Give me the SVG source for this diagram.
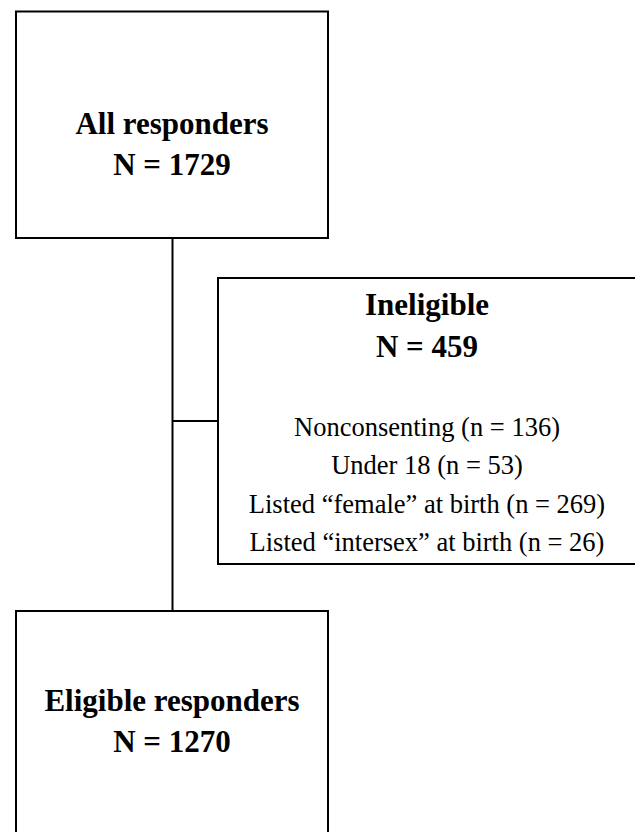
<svg xmlns="http://www.w3.org/2000/svg" width="635" height="832" viewBox="0 0 635 832">
<style>
.box{fill:#fff;stroke:#000;stroke-width:2}
.ln{fill:none;stroke:#000;stroke-width:2}
.b{font-family:"Liberation Serif","Times New Roman",serif;font-weight:bold;font-size:31px;fill:#000;text-anchor:middle}
.r{font-family:"Liberation Serif","Times New Roman",serif;font-size:26.5px;fill:#000;text-anchor:middle}
</style>
<rect width="635" height="832" fill="#fff"/>
<g id="connectors">
<line class="ln" x1="172.5" y1="238" x2="172.5" y2="611"/>
<line class="ln" x1="172.5" y1="421" x2="218" y2="421"/>
</g>
<g id="all">
<rect class="box" x="16" y="11.5" width="312" height="226.5"/>
<text class="b" x="172" y="134">All responders</text>
<text class="b" x="172" y="175">N = 1729</text>
</g>
<g id="ineligible">
<rect class="box" x="218" y="278" width="420" height="286"/>
<text class="b" x="427" y="315">Ineligible</text>
<text class="b" x="427" y="357">N = 459</text>
<text class="r" x="427" y="436">Nonconsenting (n = 136)</text>
<text class="r" x="427" y="474">Under 18 (n = 53)</text>
<text class="r" x="427" y="513">Listed “female” at birth (n = 269)</text>
<text class="r" x="427" y="551">Listed “intersex” at birth (n = 26)</text>
</g>
<g id="eligible">
<rect class="box" x="16" y="611" width="312" height="240"/>
<text class="b" x="172" y="711">Eligible responders</text>
<text class="b" x="172" y="752">N = 1270</text>
</g>
</svg>
